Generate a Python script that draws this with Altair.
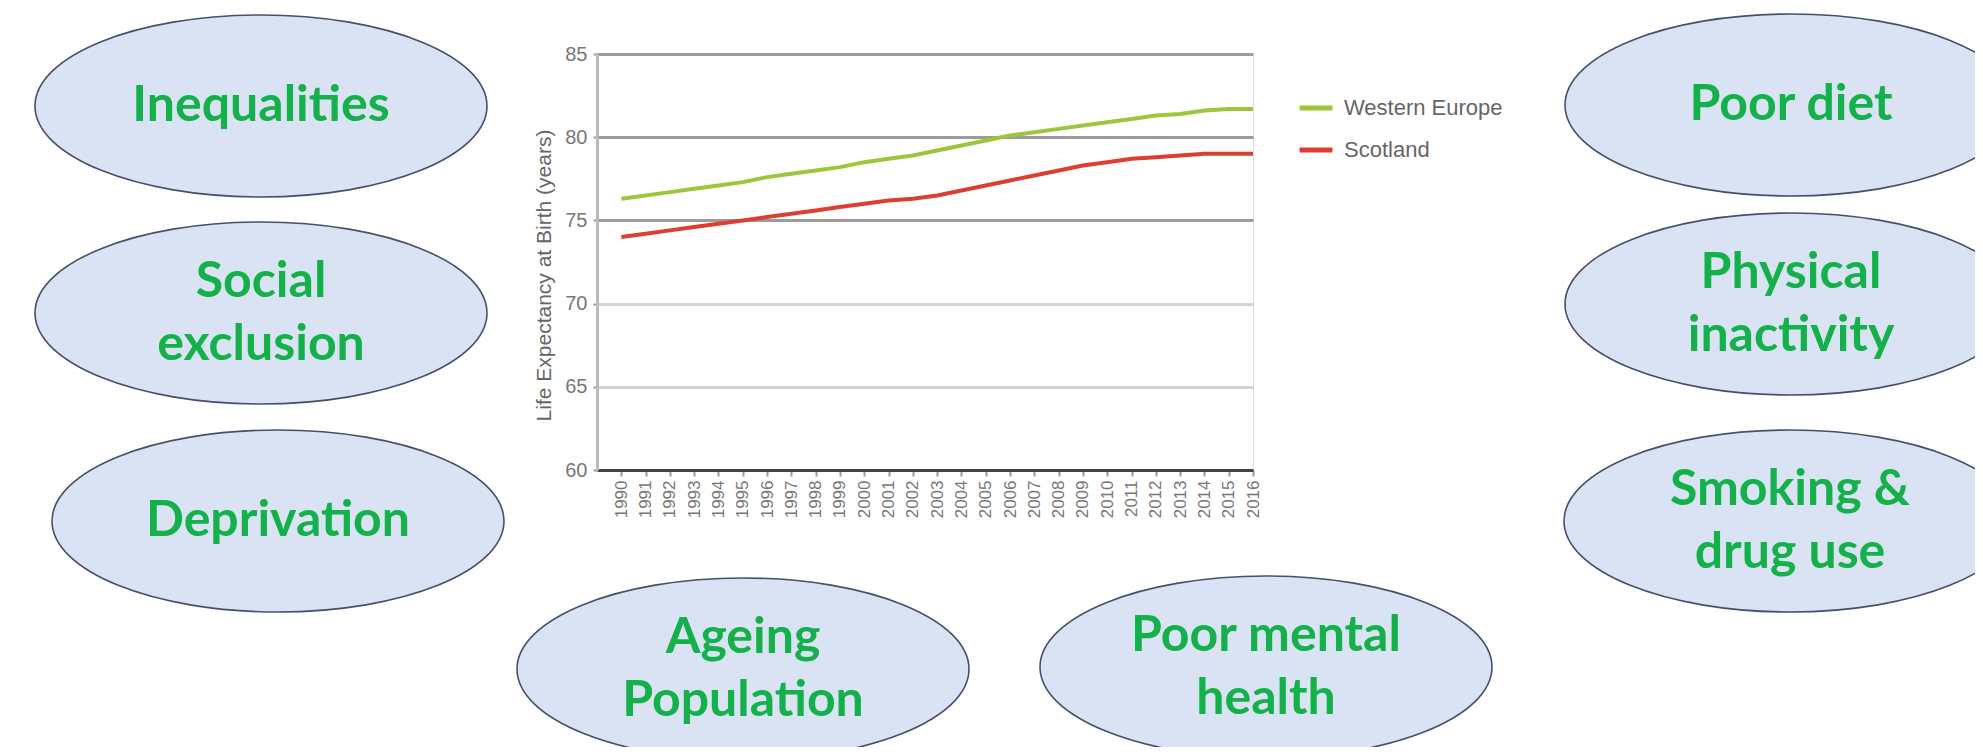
import altair as alt
import pandas as pd

# ---------------- data ----------------
years = [1990, 1991, 1992, 1993, 1994, 1995, 1996, 1997, 1998, 1999, 2000,
         2001, 2002, 2003, 2004, 2005, 2006, 2007, 2008, 2009, 2010, 2011,
         2012, 2013, 2014, 2015, 2016]
western_europe = [76.3, 76.5, 76.7, 76.9, 77.1, 77.3, 77.6, 77.8, 78.0, 78.2, 78.5,
                  78.7, 78.9, 79.2, 79.5, 79.8, 80.1, 80.3, 80.5, 80.7, 80.9, 81.1,
                  81.3, 81.4, 81.6, 81.7, 81.7]
scotland = [74.0, 74.2, 74.4, 74.6, 74.8, 75.0, 75.2, 75.4, 75.6, 75.8, 76.0,
            76.2, 76.3, 76.5, 76.8, 77.1, 77.4, 77.7, 78.0, 78.3, 78.5, 78.7,
            78.8, 78.9, 79.0, 79.0, 79.0]
series_names = ["Western Europe", "Scotland"]
y_ticks = [60, 65, 70, 75, 80, 85]

node_labels = ["Inequalities", "Social\nexclusion", "Deprivation",
               "Ageing\nPopulation", "Poor mental\nhealth",
               "Poor diet", "Physical\ninactivity", "Smoking &\ndrug use"]

# ---------------- layout (pixels relative to plot origin) ----------------
node_layout = [(-336, 52), (-336, 259), (-319, 467),
               (146, 615), (669, 613),
               (1194, 51), (1194, 250), (1193, 467)]

PLOT_W, PLOT_H = 656, 416
RX, RY = 226, 91
LINE_H = 63

rows = []
for i, y in enumerate(years):
    rows.append({"year": y, "value": western_europe[i], "series": series_names[0]})
    rows.append({"year": y, "value": scotland[i], "series": series_names[1]})
df_lines = pd.DataFrame(rows)

df_nodes = pd.DataFrame({
    "label": node_labels,
    "px": [p[0] for p in node_layout],
    "py": [p[1] for p in node_layout],
    # first-line anchor so that a multi-line block is centred in its ellipse
    "ty": [p[1] - (lab.count("\n")) * LINE_H / 2 for p, lab in zip(node_layout, node_labels)],
})

# ellipse path in unit box (-1..1 wide), scaled by sqrt(size)/2
r = RY / RX
k = 0.5523
ellipse_path = (
    f"M -1 0 C -1 {-k*r:.4f} {-k:.4f} {-r:.4f} 0 {-r:.4f} "
    f"C {k:.4f} {-r:.4f} 1 {-k*r:.4f} 1 0 "
    f"C 1 {k*r:.4f} {k:.4f} {r:.4f} 0 {r:.4f} "
    f"C {-k:.4f} {r:.4f} -1 {k*r:.4f} -1 0 Z"
)

FONT = "Liberation Sans"

lines = alt.Chart(df_lines).mark_line(strokeWidth=4).encode(
    x=alt.X("year:Q",
            scale=alt.Scale(domain=[1989, 2016], nice=False, zero=False),
            axis=alt.Axis(values=years, format="d", labelAngle=270,
                          labelAlign="right", labelBaseline="middle",
                          labelFontSize=17, labelColor="#777", labelFont=FONT,
                          tickSize=6, tickColor="#999", tickWidth=2,
                          domainColor="#444", domainWidth=3, grid=False,
                          title=None, labelPadding=4)),
    y=alt.Y("value:Q",
            scale=alt.Scale(domain=[60, 85], nice=False, zero=False),
            axis=alt.Axis(values=y_ticks, title="Life Expectancy at Birth (years)",
                          titleFont=FONT, titleFontSize=21, titleFontWeight="normal",
                          titleColor="#666", titlePadding=10, titleY=221,
                          labelFont=FONT, labelFontSize=20, labelColor="#777",
                          labelPadding=6, tickSize=4, tickColor="#999", tickWidth=2,
                          domainColor="#bbb", domainWidth=3,
                          grid=True, gridWidth=3,
                          gridColor=alt.condition("datum.value >= 75",
                                                  alt.value("#9c9c9c"),
                                                  alt.value("#d4d4d4")))),
    color=alt.Color("series:N",
                    scale=alt.Scale(domain=series_names, range=["#9cc63c", "#dc3f2f"]),
                    legend=alt.Legend(title=None, orient="none", legendX=700, legendY=35,
                                      symbolType="stroke", symbolStrokeWidth=5,
                                      symbolSize=1089, labelFont=FONT, labelFontSize=22,
                                      labelColor="#666", labelOffset=9, rowPadding=12,
                                      padding=0)),
)

ellipses = alt.Chart(df_nodes).mark_point(
    shape=ellipse_path, size=(2 * RX) ** 2, filled=True,
    fill="#dae3f3", stroke="#46506a", strokeWidth=1.6, opacity=1,
).encode(
    x=alt.X("px:Q", scale=None, axis=None),
    y=alt.Y("py:Q", scale=None, axis=None),
)

texts = alt.Chart(df_nodes).mark_text(
    font="Lato", fontWeight="bold", fontSize=50, lineHeight=LINE_H,
    color="#14b14b", lineBreak="\n", align="center", baseline="middle",
).encode(
    x=alt.X("px:Q", scale=None, axis=None),
    y=alt.Y("ty:Q", scale=None, axis=None),
    text="label:N",
)

chart = alt.layer(lines, ellipses, texts).resolve_scale(
    x="independent", y="independent"
).properties(
    width=PLOT_W, height=PLOT_H,
    autosize=alt.AutoSizeParams(type="none"),
    padding={"left": 589, "top": 46, "right": 722, "bottom": 277},
).configure_view(stroke=None).configure(background="white")

chart.save("out.html", embed_options={"renderer": "svg", "actions": False})
